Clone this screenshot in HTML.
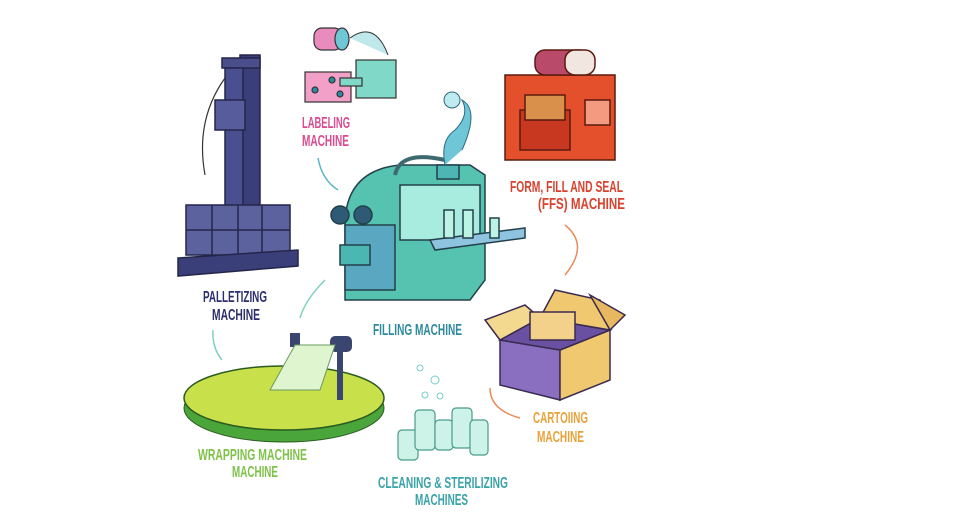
<!DOCTYPE html>
<html><head><meta charset="utf-8"><style>
html,body{margin:0;padding:0;background:#fff}
svg{display:block}
text{font-family:"Liberation Sans",sans-serif;font-weight:bold}
</style></head><body>
<svg width="960" height="520" viewBox="0 0 960 520" xmlns="http://www.w3.org/2000/svg">
<rect width="960" height="520" fill="#fff"/>
<!-- Palletizer -->
<g stroke="#23264a" stroke-width="1.5">
<rect x="240" y="55" width="20" height="155" fill="#3a3f7a"/>
<rect x="222" y="58" width="38" height="10" fill="#4a4f8c"/>
<rect x="225" y="68" width="18" height="140" fill="#4a508f"/>
<rect x="215" y="100" width="30" height="30" fill="#565c9c"/>
<rect x="186" y="205" width="104" height="50" fill="#5c629e"/>
<line x1="212" y1="205" x2="212" y2="255"/><line x1="238" y1="205" x2="238" y2="255"/><line x1="262" y1="205" x2="262" y2="255"/>
<line x1="186" y1="230" x2="290" y2="230"/>
<polygon points="178,258 298,250 298,266 178,276" fill="#3a3f7a"/>
</g>
<path d="M225 78 Q195 120 205 175" stroke="#333" fill="none" stroke-width="1.2"/>
<text x="203" y="302" font-size="16" fill="#2c2f6e" textLength="64" lengthAdjust="spacingAndGlyphs">PALLETIZING</text>
<text x="212" y="320" font-size="16" fill="#2c2f6e" textLength="48" lengthAdjust="spacingAndGlyphs">MACHINE</text>
<!-- Labeling -->
<g stroke="#333" stroke-width="1.2">
<rect x="314" y="28" width="28" height="22" rx="8" fill="#e88bbd"/>
<ellipse cx="342" cy="39" rx="7" ry="11" fill="#6fc7d6"/>
<rect x="305" y="72" width="46" height="30" fill="#f2a0c8"/>
<rect x="356" y="60" width="40" height="38" fill="#7fd8c8"/>
<rect x="340" y="78" width="22" height="8" fill="#7fd8c8"/>
<circle cx="315" cy="90" r="3" fill="#2a8aa0"/><circle cx="332" cy="80" r="3" fill="#2a8aa0"/><circle cx="340" cy="94" r="3" fill="#2a8aa0"/>
</g>
<path d="M350 38 Q375 20 388 55" stroke="#333" fill="#bfe8ea" stroke-width="1"/>
<text x="302" y="128" font-size="16" fill="#d94c8f" textLength="48" lengthAdjust="spacingAndGlyphs">LABELING</text>
<text x="302" y="146" font-size="16" fill="#d94c8f" textLength="47" lengthAdjust="spacingAndGlyphs">MACHINE</text>
<path d="M318 158 Q322 180 338 190" stroke="#5bb6c6" fill="none" stroke-width="1.5"/>
<!-- Filling machine -->
<g stroke="#23404a" stroke-width="1.5">
<path d="M345 300 L345 220 Q348 170 400 165 L470 165 L485 175 L485 280 L470 300 Z" fill="#56c2b0"/>
<rect x="345" y="225" width="50" height="65" fill="#5aa7c2"/>
<rect x="340" y="245" width="30" height="20" fill="#4bb7b3"/>
<circle cx="340" cy="215" r="9" fill="#2f5a76"/><circle cx="363" cy="215" r="9" fill="#2f5a76"/>
<rect x="400" y="185" width="80" height="55" fill="#a8ece0"/>
<polygon points="430,240 525,228 525,238 435,250" fill="#8fc4e0"/>
<rect x="444" y="210" width="10" height="28" fill="#bdf3e4"/><rect x="463" y="210" width="10" height="28" fill="#bdf3e4"/><rect x="490" y="218" width="9" height="20" fill="#bdf3e4"/>
<rect x="437" y="165" width="22" height="14" fill="#4db5b3"/>
</g>
<path d="M395 175 Q400 150 445 160" stroke="#3d6a70" fill="none" stroke-width="4"/>
<path d="M445 165 Q440 140 455 130 Q470 115 462 100 Q480 110 462 150" fill="#6fc6d6" stroke="#2a6a80"/>
<circle cx="452" cy="100" r="8" fill="#bfeaf0" stroke="#2a6a80"/>
<text x="373" y="335" font-size="16" fill="#2e8a9e" textLength="89" lengthAdjust="spacingAndGlyphs">FILLING MACHINE</text>
<path d="M325 280 Q305 300 300 318" stroke="#7fd0c0" fill="none" stroke-width="1.5"/>
<!-- FFS -->
<g stroke="#5a1a10" stroke-width="1.5">
<rect x="505" y="75" width="110" height="85" fill="#e5502c"/>
<rect x="520" y="110" width="50" height="40" fill="#c8371f"/>
<rect x="525" y="95" width="40" height="25" fill="#d9904a"/>
<rect x="585" y="100" width="25" height="25" fill="#f39a80"/>
<rect x="535" y="50" width="55" height="25" rx="10" fill="#b94a6a"/>
<rect x="565" y="50" width="30" height="25" rx="10" fill="#f1e7e0"/>
</g>
<text x="510" y="192" font-size="16" fill="#d9412d" textLength="113" lengthAdjust="spacingAndGlyphs">FORM, FILL AND SEAL</text>
<text x="538" y="209" font-size="16" fill="#d9412d" textLength="87" lengthAdjust="spacingAndGlyphs">(FFS) MACHINE</text>
<path d="M565 225 Q590 245 565 275" stroke="#e98a5a" fill="none" stroke-width="1.5"/>
<!-- Cartoning -->
<g stroke="#3a2a50" stroke-width="1.5">
<polygon points="500,340 560,350 560,400 500,385" fill="#8a6ec0"/>
<polygon points="560,350 610,330 610,380 560,400" fill="#f0c870"/>
<polygon points="500,340 540,318 610,330 560,350" fill="#6a50a0"/>
<polygon points="500,340 485,320 525,305 540,318" fill="#f3d890"/>
<polygon points="540,318 555,290 600,300 610,330" fill="#f0c870"/>
<polygon points="610,330 625,315 590,295" fill="#e8b860"/>
<rect x="530" y="312" width="45" height="28" fill="#f3d18a"/>
</g>
<text x="533" y="423" font-size="16" fill="#e8a23a" textLength="55" lengthAdjust="spacingAndGlyphs">CARTOIING</text>
<text x="537" y="442" font-size="16" fill="#e8a23a" textLength="47" lengthAdjust="spacingAndGlyphs">MACHINE</text>
<path d="M520 418 Q490 410 490 388" stroke="#e98a5a" fill="none" stroke-width="1.5"/>
<!-- Bottles -->
<g stroke="#4a9a8a" stroke-width="1.2" fill="#cdf3e8">
<rect x="398" y="430" width="20" height="30" rx="4"/><rect x="415" y="410" width="20" height="40" rx="4"/>
<rect x="435" y="420" width="18" height="30" rx="4"/><rect x="452" y="408" width="20" height="40" rx="4"/><rect x="470" y="420" width="18" height="35" rx="4"/>
</g>
<g fill="none" stroke="#7cc" stroke-width="1"><circle cx="420" cy="368" r="3"/><circle cx="435" cy="380" r="4"/><circle cx="425" cy="395" r="3"/><circle cx="440" cy="396" r="3"/></g>
<text x="378" y="488" font-size="16" fill="#3aa3a8" textLength="130" lengthAdjust="spacingAndGlyphs">CLEANING &amp; STERILIZING</text>
<text x="415" y="505" font-size="16" fill="#3aa3a8" textLength="53" lengthAdjust="spacingAndGlyphs">MACHINES</text>
<!-- Wrapping -->
<ellipse cx="284" cy="408" rx="100" ry="34" fill="#4aa53a" stroke="#2a5a20"/>
<ellipse cx="284" cy="398" rx="100" ry="32" fill="#c8e04a" stroke="#2a5a20" stroke-width="1.5"/>
<rect x="337" y="345" width="6" height="55" fill="#3a4670"/>
<rect x="290" y="333" width="10" height="14" fill="#3a4670"/><rect x="330" y="336" width="22" height="16" rx="5" fill="#3a4670"/>
<polygon points="295,345 335,345 320,390 270,390" fill="#dff5d0" stroke="#6a9a60"/>
<text x="198" y="460" font-size="16" fill="#7fc24a" textLength="109" lengthAdjust="spacingAndGlyphs">WRAPPING MACHINE</text>
<text x="232" y="477" font-size="16" fill="#7fc24a" textLength="46" lengthAdjust="spacingAndGlyphs">MACHINE</text>
<path d="M213 330 Q212 348 222 360" stroke="#7fd0c0" fill="none" stroke-width="1.5"/>
</svg>
</body></html>
